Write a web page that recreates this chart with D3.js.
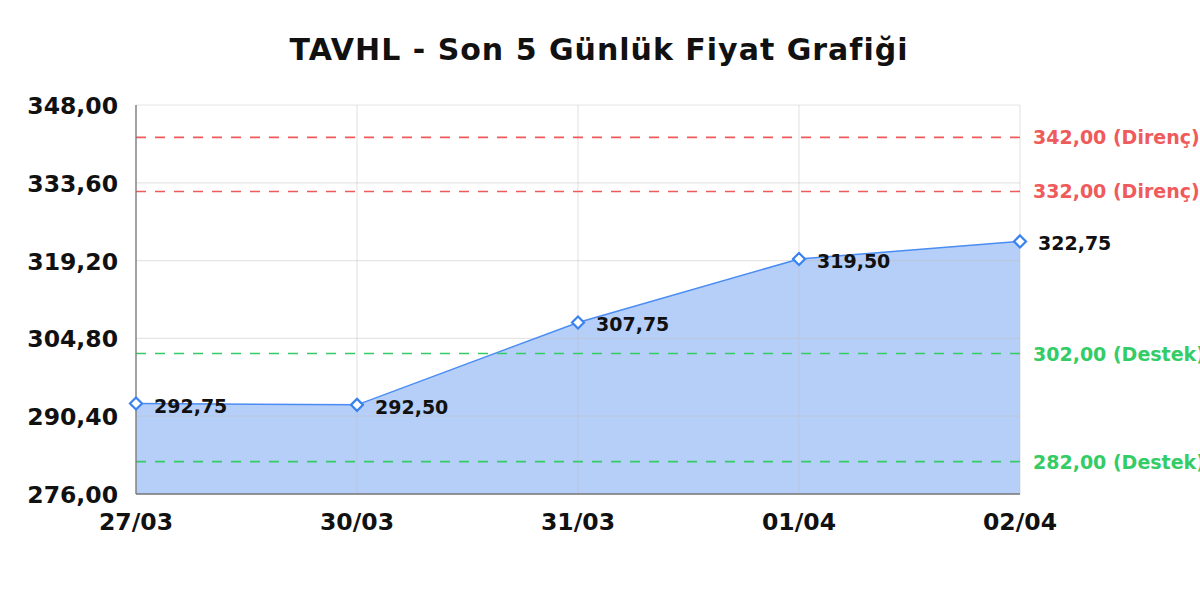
<!DOCTYPE html>
<html><head><meta charset="utf-8">
<script src="https://cdn.jsdelivr.net/npm/d3@7"></script>
<style>body{margin:0;background:#fff}svg{display:block}</style>
</head><body>
<svg id="c" width="1200" height="600"></svg>
<script>
const dates = ["27/03","30/03","31/03","01/04","02/04"];
const prices = [292.75, 292.50, 307.75, 319.50, 322.75];
const yTicks = [276.00, 290.40, 304.80, 319.20, 333.60, 348.00];
const resistance = [342.00, 332.00];
const support = [302.00, 282.00];
const title = "TAVHL - Son 5 Günlük Fiyat Grafiği";

const svg = d3.select("#c");
const L = 136, R = 1020, T = 105, B = 494;
const fmt = v => v.toFixed(2).replace(".", ",");
const x = d3.scalePoint().domain(dates).range([L, R]);
const y = d3.scaleLinear().domain([276, 348]).range([B, T]);
const font = "'DejaVu Sans', sans-serif";

svg.append("text").attr("x", 599).attr("y", 60).attr("text-anchor", "middle")
  .attr("font-family", font).attr("font-weight", "bold").attr("font-size", 30)
  .attr("letter-spacing", 1).attr("fill", "#111").text(title);

const data = dates.map((d, i) => ({d, v: prices[i]}));
svg.append("path").datum(data)
  .attr("d", d3.area().x(p => x(p.d)).y0(B).y1(p => y(p.v)))
  .attr("fill", "#b6cff8");

// grid
const g = svg.append("g");
g.selectAll(".hg").data(yTicks).join("line").attr("x1", L).attr("x2", R)
  .attr("y1", d => y(d)).attr("y2", d => y(d)).attr("stroke", "rgba(190,190,190,0.4)").attr("stroke-width", 1.2);
g.selectAll(".vg").data(dates).join("line").attr("y1", T).attr("y2", B)
  .attr("x1", d => x(d)).attr("x2", d => x(d)).attr("stroke", "rgba(190,190,190,0.4)").attr("stroke-width", 1.2);

svg.append("path").datum(data)
  .attr("d", d3.line().x(p => x(p.d)).y(p => y(p.v)))
  .attr("fill", "none").attr("stroke", "#4a8cf2").attr("stroke-width", 1.5);

// reference lines
const refs = resistance.map(v => ({v, c: "#ef5a5a", t: fmt(v) + " (Direnç)"}))
  .concat(support.map(v => ({v, c: "#33cc66", t: fmt(v) + " (Destek)"})));
svg.selectAll(".ref").data(refs).join("line")
  .attr("x1", L).attr("x2", R).attr("y1", d => y(d.v)).attr("y2", d => y(d.v))
  .attr("stroke", d => d.c).attr("stroke-width", 1.6).attr("stroke-dasharray", "10,9");
svg.selectAll(".reft").data(refs).join("text")
  .attr("x", 1033).attr("y", d => y(d.v) + 7).attr("fill", d => d.c)
  .attr("font-family", font).attr("font-weight", "bold").attr("font-size", 19).text(d => d.t);

// axes
svg.append("line").attr("x1", L).attr("x2", L).attr("y1", T).attr("y2", B).attr("stroke", "#777").attr("stroke-width", 1.3);
svg.append("line").attr("x1", L).attr("x2", R).attr("y1", B).attr("y2", B).attr("stroke", "#777").attr("stroke-width", 1.3);

svg.selectAll(".yt").data(yTicks).join("text")
  .attr("x", 118).attr("y", d => y(d) + 9).attr("text-anchor", "end")
  .attr("font-family", font).attr("font-weight", "bold").attr("font-size", 23.5).attr("fill", "#111").text(fmt);
svg.selectAll(".xt").data(dates).join("text")
  .attr("x", d => x(d)).attr("y", 530).attr("text-anchor", "middle")
  .attr("font-family", font).attr("font-weight", "bold").attr("font-size", 23.5).attr("fill", "#111").text(d => d);

// markers
const dm = 6;
svg.selectAll(".m").data(data).join("path")
  .attr("d", `M0,${-dm}L${dm},0L0,${dm}L${-dm},0Z`)
  .attr("transform", p => `translate(${x(p.d)},${y(p.v)})`)
  .attr("fill", "#fff").attr("stroke", "#3a82f0").attr("stroke-width", 2.2);
svg.selectAll(".dl").data(data).join("text")
  .attr("x", p => x(p.d) + 18).attr("y", p => y(p.v) + 9)
  .attr("font-family", font).attr("font-weight", "bold").attr("font-size", 19).attr("fill", "#111")
  .text(p => fmt(p.v));
</script>
</body></html>
